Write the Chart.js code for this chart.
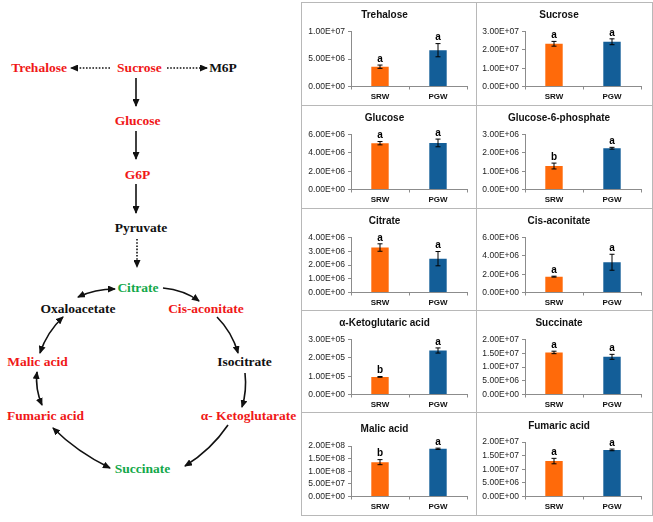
<!DOCTYPE html>
<html>
<head>
<meta charset="utf-8">
<script src="https://cdn.jsdelivr.net/npm/chart.js@4/dist/chart.umd.min.js"></script>
<style>
  html, body { margin: 0; padding: 0; background: #fff; }
  body { width: 653px; height: 522px; position: relative; overflow: hidden; }
  #pathway { position: absolute; left: 0; top: 0; }
  #pathway text { font-family: "Liberation Serif", "Times New Roman", serif; font-weight: bold; font-size: 13.5px; text-anchor: middle; dominant-baseline: central; }
  .red { fill: #f01818; }
  .green { fill: #13a84a; }
  .black { fill: #111; }
  .grid {
    position: absolute; left: 301px; top: 2px;
    display: grid;
    grid-template-columns: 174px 175px;
    grid-template-rows: 102px 102px 101px 101px 102px;
    gap: 1px; padding: 1px; background: #b8b8b8;
  }
  .cell { background: #fff; position: relative; }
  .cell canvas { display: block; }
</style>
</head>
<body>

<svg id="pathway" width="300" height="522" viewBox="0 0 300 522">
  <defs>
    <marker id="ah" markerUnits="userSpaceOnUse" markerWidth="8" markerHeight="7" refX="7" refY="3.5" orient="auto-start-reverse">
      <path d="M0,0 L8,3.5 L0,7 z" fill="#111"/>
    </marker>
  </defs>
  <g stroke="#111" stroke-width="1.6" fill="none">
    <!-- dotted side branches -->
    <line x1="110" y1="68" x2="71" y2="68" stroke-dasharray="1.6 1.6" marker-end="url(#ah)"/>
    <line x1="167" y1="68" x2="207" y2="68" stroke-dasharray="1.6 1.6" marker-end="url(#ah)"/>
    <!-- glycolysis column -->
    <line x1="136" y1="78" x2="136" y2="106" marker-end="url(#ah)"/>
    <line x1="136" y1="131" x2="136" y2="159" marker-end="url(#ah)"/>
    <line x1="136" y1="184" x2="136" y2="213" marker-end="url(#ah)"/>
    <line x1="137" y1="239" x2="137" y2="267" stroke-dasharray="1.6 1.6" marker-end="url(#ah)"/>
    <!-- TCA cycle -->
    <path d="M163,288 Q184,290 199,301" marker-end="url(#ah)"/>
    <path d="M217,317 Q232,332 238,353" marker-end="url(#ah)"/>
    <path d="M245,373 Q247,391 242,407" marker-end="url(#ah)"/>
    <path d="M228,425 Q211,450 185,466" marker-end="url(#ah)"/>
    <path d="M110,468 Q77,452 53,428" marker-start="url(#ah)" marker-end="url(#ah)"/>
    <path d="M42,405 Q35,389 37,372" marker-start="url(#ah)" marker-end="url(#ah)"/>
    <path d="M40,353 Q47,332 63,317" marker-start="url(#ah)" marker-end="url(#ah)"/>
    <path d="M78,297 Q95,289 115,289" marker-start="url(#ah)" marker-end="url(#ah)"/>
  </g>
  <text class="red" x="39" y="67">Trehalose</text>
  <text class="red" x="139.5" y="67">Sucrose</text>
  <text class="black" x="223" y="67">M6P</text>
  <text class="red" x="137.5" y="120">Glucose</text>
  <text class="red" x="137.5" y="174">G6P</text>
  <text class="black" x="141" y="227">Pyruvate</text>
  <text class="green" x="138" y="287">Citrate</text>
  <text class="black" x="78" y="308">Oxaloacetate</text>
  <text class="red" x="206" y="308">Cis-aconitate</text>
  <text class="red" x="37.5" y="361">Malic acid</text>
  <text class="black" x="244.5" y="361">Isocitrate</text>
  <text class="red" x="45.5" y="415">Fumaric acid</text>
  <text class="red" x="248.5" y="415">α- Ketoglutarate</text>
  <text class="green" x="142.5" y="468">Succinate</text>
</svg>

<div class="grid" id="grid"></div>

<script>
// 数据：各代谢物的均值、误差和显著性字母
const panelTitles = ['Trehalose', 'Sucrose', 'Glucose', 'Glucose-6-phosphate', 'Citrate',
                     'Cis-aconitate', 'α-Ketoglutaric acid', 'Succinate', 'Malic acid', 'Fumaric acid'];
const groups = ['SRW', 'PGW'];
const srwMeans  = [3.6e6, 2.33e7, 5.05e6, 1.28e6, 3.27e6, 1.73e6, 9.6e4, 1.53e7, 1.36e8, 1.30e7];
const pgwMeans  = [6.6e6, 2.44e7, 5.08e6, 2.25e6, 2.46e6, 3.30e6, 2.4e5, 1.37e7, 1.89e8, 1.71e7];
const srwErrors = [3.0e5, 1.3e6, 1.8e5, 1.6e5, 2.7e5, 5.0e4, 2.0e3, 4.5e5, 1.0e7, 1.0e6];
const pgwErrors = [1.2e6, 1.6e6, 4.2e5, 5.0e4, 5.2e5, 8.7e5, 1.4e4, 9.0e5, 2.5e6, 3.0e5];
const srwLetters = ['a', 'a', 'a', 'b', 'a', 'a', 'b', 'a', 'b', 'a'];
const pgwLetters = ['a', 'a', 'a', 'a', 'a', 'a', 'a', 'a', 'a', 'a'];
const yMax  = [1e7, 3e7, 6e6, 3e6, 4e6, 6e6, 3e5, 2e7, 2e8, 2e7];
const yStep = [5e6, 1e7, 2e6, 1e6, 1e6, 2e6, 1e5, 5e6, 5e7, 5e6];

const barColors = ['#ff6a0a', '#135e98'];
const rowHeights = [102, 102, 101, 101, 102];
const colWidths = [174, 175];
const axisFont = '"Liberation Sans", Arial, sans-serif';

// Excel 风格的科学计数法
function sci(v) {
    const [m, e] = Number(v).toExponential(2).split('e');
    return m + 'E' + e[0] + e.slice(1).padStart(2, '0');
}

// 误差线和字母标注
const errorBarPlugin = {
    id: 'errorBars',
    afterDatasetsDraw(chart) {
        const ctx = chart.ctx;
        const yScale = chart.scales.y;
        chart.data.datasets.forEach((ds, di) => {
            chart.getDatasetMeta(di).data.forEach((bar, i) => {
                const v = ds.data[i], e = ds.errors[i];
                const yHi = yScale.getPixelForValue(v + e);
                const yLo = yScale.getPixelForValue(v - e);
                ctx.save();
                ctx.strokeStyle = '#000';
                ctx.lineWidth = 1;
                ctx.beginPath();
                ctx.moveTo(bar.x, yHi); ctx.lineTo(bar.x, yLo);
                ctx.moveTo(bar.x - 2.5, yHi); ctx.lineTo(bar.x + 2.5, yHi);
                ctx.moveTo(bar.x - 2.5, yLo); ctx.lineTo(bar.x + 2.5, yLo);
                ctx.stroke();
                ctx.fillStyle = '#000';
                ctx.font = 'bold 10px ' + axisFont;
                ctx.textAlign = 'center';
                ctx.textBaseline = 'bottom';
                ctx.fillText(ds.letters[i], bar.x, yHi - 1);
                ctx.restore();
            });
        });
    }
};

function makeChart(idx) {
    const col = idx % 2, row = Math.floor(idx / 2);
    const w = colWidths[col], h = rowHeights[row];

    const cell = document.createElement('div');
    cell.className = 'cell';
    const canvas = document.createElement('canvas');
    canvas.width = w;
    canvas.height = h;
    cell.appendChild(canvas);
    document.getElementById('grid').appendChild(cell);

    // 最后一行标题位置略有不同
    let titlePad = { top: 6, bottom: 10.5 };
    if (idx === 8) titlePad = { top: 10, bottom: 11 };
    if (idx === 9) titlePad = { top: 7, bottom: 10 };
    const xHeight = h - 83.5;

    new Chart(canvas, {
        type: 'bar',
        data: {
            labels: groups,
            datasets: [{
                data: [srwMeans[idx], pgwMeans[idx]],
                errors: [srwErrors[idx], pgwErrors[idx]],
                letters: [srwLetters[idx], pgwLetters[idx]],
                backgroundColor: barColors,
                borderWidth: 0,
                categoryPercentage: 1,
                barPercentage: 0.3
            }]
        },
        options: {
            responsive: false,
            animation: false,
            layout: { padding: { left: 0, right: col === 0 ? 9 : 11, top: 0, bottom: 0 } },
            plugins: {
                legend: { display: false },
                tooltip: { enabled: false },
                title: {
                    display: true,
                    text: panelTitles[idx],
                    color: '#111',
                    font: { family: axisFont, size: 10, weight: 'bold', lineHeight: 1.2 },
                    padding: titlePad
                }
            },
            scales: {
                x: {
                    afterFit(scale) { scale.height = xHeight; },
                    border: { display: true, color: '#8c8c8c', width: 1 },
                    grid: { drawOnChartArea: false, drawTicks: true, tickLength: 3, color: '#8c8c8c' },
                    ticks: { color: '#111', padding: 2, font: { family: axisFont, size: 8, weight: 'bold' } }
                },
                y: {
                    min: 0,
                    max: yMax[idx],
                    afterFit(scale) { scale.width = col === 0 ? 49 : 48; },
                    border: { display: true, color: '#8c8c8c', width: 1 },
                    grid: { drawOnChartArea: false, drawTicks: true, tickLength: 3, color: '#8c8c8c' },
                    ticks: {
                        stepSize: yStep[idx],
                        autoSkip: false,
                        color: '#222',
                        padding: 3,
                        font: { family: axisFont, size: 8.5 },
                        callback: v => sci(v)
                    }
                }
            }
        },
        plugins: [errorBarPlugin]
    });
}

panelTitles.forEach((t, i) => makeChart(i));
</script>
</body>
</html>
